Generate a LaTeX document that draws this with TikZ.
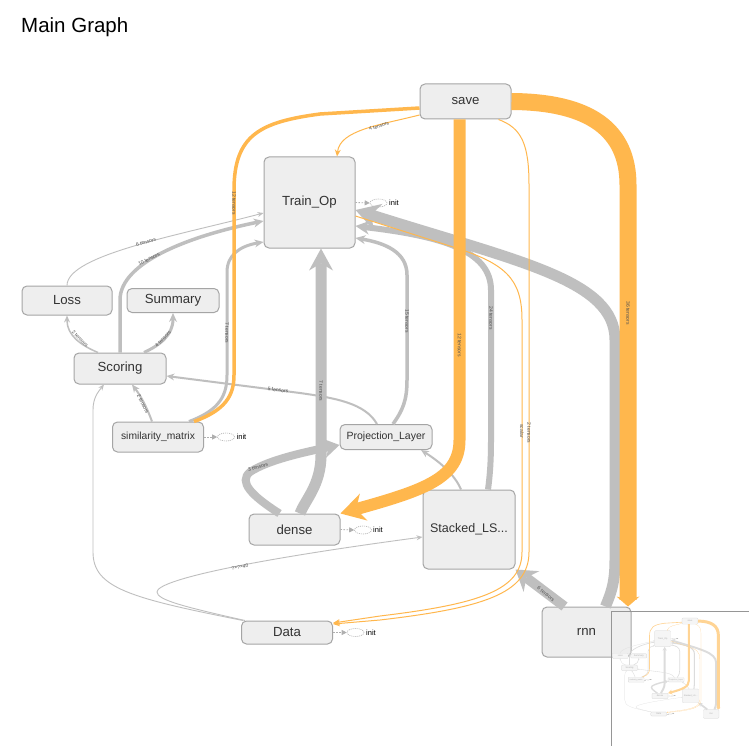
\documentclass[tikz,border=0pt]{standalone}
\usepackage{fontspec}
\setmainfont{Liberation Sans}
\usetikzlibrary{arrows.meta,shapes.geometric}

\definecolor{edgegray}{RGB}{191,191,191}
\definecolor{edgeorange}{RGB}{255,183,77}
\definecolor{nodefill}{RGB}{238,238,238}
\definecolor{nodeborder}{RGB}{165,165,165}
\definecolor{nodetext}{RGB}{51,51,51}
\definecolor{labeltext}{RGB}{80,80,80}
\definecolor{initgray}{RGB}{175,175,175}
\definecolor{frame}{RGB}{150,150,150}

\tikzset{
  opbox/.style={draw=nodeborder, fill=nodefill, rounded corners=5pt, line width=1pt,
    text=nodetext, font=\fontsize{13.2}{15}\selectfont, inner sep=0pt},
  gedge/.style={draw=edgegray},
  oedge/.style={draw=edgeorange},
  arr/.style 2 args={-{Stealth[length=#1pt,width=#2pt,line width=0pt]}},
  elabel/.style={font=\fontsize{5}{6}\selectfont, text=labeltext, inner sep=0pt},
  initell/.style={ellipse, draw=initgray, dash pattern=on 1pt off 1pt, minimum width=17pt,
    minimum height=8pt, inner sep=0pt, line width=0.6pt},
  initlink/.style={draw=initgray, dash pattern=on 1.5pt off 1.5pt, line width=0.8pt,
    -{Triangle[length=5pt,width=5pt]}},
  inittext/.style={font=\fontsize{7.5}{9}\selectfont, anchor=west, inner sep=0pt, text=black},
}

\newcommand\drawgraph[1]{%
% ---------- nodes
\node[opbox, minimum width=91pt, minimum height=35pt] (#1save) at (465.5,101.5) {save};
\node[opbox, minimum width=91pt, minimum height=91pt] (#1Train) at (309.5,202.5) {Train\_Op};
\node[opbox, minimum width=90pt, minimum height=29pt] (#1Loss) at (67,300.5) {Loss};
\node[opbox, minimum width=92pt, minimum height=24pt] (#1Summary) at (173,300.5) {Summary};
\node[opbox, minimum width=92pt, minimum height=31pt] (#1Scoring) at (120,368.5) {Scoring};
\node[opbox, minimum width=91pt, minimum height=30pt, font=\fontsize{10.3}{12}\selectfont] (#1sim) at (158,437) {similarity\_matrix};
\node[opbox, minimum width=92pt, minimum height=25pt, font=\fontsize{10.5}{12}\selectfont] (#1Proj) at (386,437) {Projection\_Layer};
\node[opbox, minimum width=91pt, minimum height=31pt] (#1dense) at (294.5,529.5) {dense};
\node[opbox, minimum width=92pt, minimum height=79pt, font=\fontsize{12.5}{14}\selectfont] (#1Stacked) at (469,529.5) {Stacked\_LS...};
\node[opbox, minimum width=91pt, minimum height=23pt] (#1Data) at (287,632.5) {Data};
\node[opbox, minimum width=89pt, minimum height=50pt] (#1rnn) at (586.5,632) {rnn};
% ---------- init stubs
\node[initell] (#1Tinit) at (378.5,203) {};
\node[inittext] (#1TinitL) at (389,203) {init};
\draw[initlink] (#1Train.east) -- (#1Tinit.west);
\node[initell] (#1Sinit) at (226,437) {};
\node[inittext] (#1SinitL) at (236.5,437) {init};
\draw[initlink] (#1sim.east) -- (#1Sinit.west);
\node[initell] (#1Dinit) at (363,530) {};
\node[inittext] (#1DinitL) at (373,530) {init};
\draw[initlink] (#1dense.east) -- (#1Dinit.west);
\node[initell] (#1Ainit) at (355.5,632.5) {};
\node[inittext] (#1AinitL) at (366,632.5) {init};
\draw[initlink] (#1Data.east) -- (#1Ainit.west);
% ---------- gray edges
\draw[gedge, line width=0.9pt, arr={6}{5}] (#1Loss.north) .. controls (67,255) and (180,235) .. ([yshift=-10.5pt]#1Train.west);
\draw[gedge, line width=3.5pt, arr={10}{9}] (#1Scoring.north) -- (120,300) .. controls (120,262) and (190,236) .. ([yshift=-18.5pt]#1Train.west);
\draw[gedge, line width=3pt, arr={9}{8}] ([xshift=31pt]#1sim.north) .. controls (220,410) and (227,395) .. (227,375) -- (227,272) .. controls (227,255) and (240,246) .. ([yshift=-39.5pt]#1Train.west);
\draw[gedge, line width=11pt, arr={24}{28}] ([xshift=19pt]#1rnn.north) .. controls (610,595) and (615,585) .. (615,560) -- (615,340) .. controls (615,280) and (520,262) .. ([yshift=-7.5pt]#1Train.east);
\draw[gedge, line width=10pt, arr={20}{26}] ([xshift=-22pt]#1rnn.north) -- (#1Stacked.south east);
\draw[gedge, line width=6pt, arr={14}{14}] ([xshift=19pt]#1Stacked.north) .. controls (490,475) and (491,460) .. (491,440) -- (491,290) .. controls (491,250) and (440,236) .. ([yshift=-23.5pt]#1Train.east);
\draw[gedge, line width=2pt, arr={8}{7}] ([xshift=-8pt]#1Stacked.north) .. controls (455,475) and (440,462) .. ([xshift=35pt]#1Proj.south);
\draw[gedge, line width=3.5pt, arr={10}{9}] ([xshift=7pt]#1Proj.north) .. controls (403,410) and (407,400) .. (407,380) -- (407,275) .. controls (407,252) and (385,243) .. ([yshift=-35.5pt]#1Train.east);
\draw[gedge, line width=2pt, arr={8}{7}] ([xshift=-9pt]#1Proj.north) .. controls (365,403) and (335,398) .. (300,393) -- ([yshift=-7.5pt]#1Scoring.east);
\draw[gedge, line width=2pt, arr={8}{7}] ([xshift=-6pt]#1sim.north) .. controls (146,405) and (140,395) .. ([xshift=12pt]#1Scoring.south);
\draw[gedge, line width=1.5pt, arr={7}{6}] ([xshift=-22pt]#1Scoring.north) .. controls (80,345) and (67,335) .. (#1Loss.south);
\draw[gedge, line width=3pt, arr={9}{8}] ([xshift=24pt]#1Scoring.north) .. controls (160,345) and (173,335) .. (#1Summary.south);
\draw[gedge, line width=0.9pt, arr={6}{5}] ([xshift=-44pt]#1Data.north) .. controls (130,598) and (93,588) .. (93,552) -- (93,410) .. controls (93,398) and (98,392) .. ([xshift=-16pt]#1Scoring.south);
\draw[gedge, line width=0.9pt, arr={6}{5}] ([xshift=-42pt]#1Data.north) .. controls (185,607) and (157,600) .. (157,592) .. controls (157,580) and (250,560) .. ([yshift=-7.5pt]#1Stacked.west);
\draw[gedge, line width=11pt, arr={22}{24}] ([xshift=5.5pt]#1dense.north) .. controls (305,500) and (321,485) .. (321,455) -- ([xshift=11.5pt]#1Train.south);
\draw[gedge, line width=8pt, arr={16}{20}] ([xshift=-15pt]#1dense.north) .. controls (252,496) and (238,482) .. (250,472) .. controls (268,460) and (305,452) .. ([yshift=-8pt]#1Proj.west);
% ---------- orange edges
\draw[oedge, line width=3.5pt] ([xshift=36pt]#1sim.north) .. controls (226,410) and (234,395) .. (234,375) -- (234,190) .. controls (234,135) and (260,122) .. (320,114) -- ([yshift=-6.5pt]#1save.west);
\draw[oedge, line width=1pt, arr={7}{6}] ([yshift=-13.5pt]#1save.west) .. controls (380,125) and (340,130) .. ([xshift=27.5pt]#1Train.north);
\draw[oedge, line width=12pt, arr={24}{28}] ([xshift=-6pt]#1save.south) -- (459.5,440) .. controls (459.5,478) and (425,490) .. (#1dense.north east);
\draw[oedge, line width=17pt, arr={10}{23}] (#1save.east) .. controls (590,102) and (628,130) .. (628,185) -- ([xshift=41.5pt]#1rnn.north);
\draw[oedge, line width=1pt, arr={7}{6}] ([yshift=-13.5pt]#1Train.east) -- (450,246) .. controls (505,263) and (522,278) .. (522,320) -- (522,552) .. controls (522,590) and (480,604) .. (380,616) -- ([yshift=9.5pt]#1Data.east);
\draw[oedge, line width=1pt, arr={7}{6}] ([xshift=33pt]#1save.south) .. controls (522,128) and (529,145) .. (529,185) -- (529,552) .. controls (529,594) and (482,608) .. (380,620) -- ([yshift=8.5pt]#1Data.east);
}

\newcommand\drawlabels{%
\node[elabel, rotate=15] (Lb1) at (146,242) {6 tensors};
\node[elabel, rotate=27] (Lb2) at (149,259) {10 tensors};
\node[elabel, rotate=-90] (Lb3) at (227,333) {7 tensors};
\node[elabel, rotate=-90] (Lb4) at (234,203) {12 tensors};
\node[elabel, rotate=18] (Lb5) at (379,126) {4 tensors};
\node[elabel, rotate=-90] (Lb6) at (459.5,345) {12 tensors};
\node[elabel, rotate=-90] (Lb7) at (628,313) {36 tensors};
\node[elabel, rotate=-90] (Lb8) at (491,318) {24 tensors};
\node[elabel, rotate=-90] (Lb9) at (407,321) {15 tensors};
\node[elabel, rotate=-90] (Lb10) at (522,431) {scalar};
\node[elabel, rotate=-90] (Lb11) at (529,433) {2 tensors};
\node[elabel, rotate=-7] (Lb12) at (278,390) {5 tensors};
\node[elabel, rotate=-63] (Lb13) at (143,404) {2 tensors};
\node[elabel, rotate=-45] (Lb14) at (80,339) {2 tensors};
\node[elabel, rotate=47] (Lb15) at (163,339) {4 tensors};
\node[elabel, rotate=-39] (Lb16) at (546,594) {6 tensors};
\node[elabel, rotate=-90] (Lb17) at (321,391) {7 tensors};
\node[elabel, rotate=15] (Lb18) at (258,467) {3 tensors};
\node[elabel, rotate=10] (Lb19) at (240,567) {?×?×40};
}

\begin{document}
\begin{tikzpicture}[x=1pt,y=-1pt]
\useasboundingbox (0,0) rectangle (749,746);
\fill[white] (0,0) rectangle (749,746);
\node[anchor=west, inner sep=0pt, font=\fontsize{20.5}{24}\selectfont] (title) at (21,27) {Main Graph};
\drawgraph{}
\drawlabels
\begin{scope}[transform canvas={shift={(608.5,603.3)},scale=0.175}]
  \colorlet{edgegray}{edgegray!55!white}
  \colorlet{edgeorange}{edgeorange!60!white}
  \colorlet{nodeborder}{nodeborder!50!white}
  \colorlet{nodefill}{nodefill!60!white}
  \colorlet{nodetext}{nodetext!40!white}
  \colorlet{labeltext}{labeltext!40!white}
  \colorlet{initgray}{initgray!50!white}
  \drawgraph{m}
\end{scope}
\draw[draw=frame, line width=1pt] (611,611) rectangle (760,760);
\end{tikzpicture}
\end{document}
